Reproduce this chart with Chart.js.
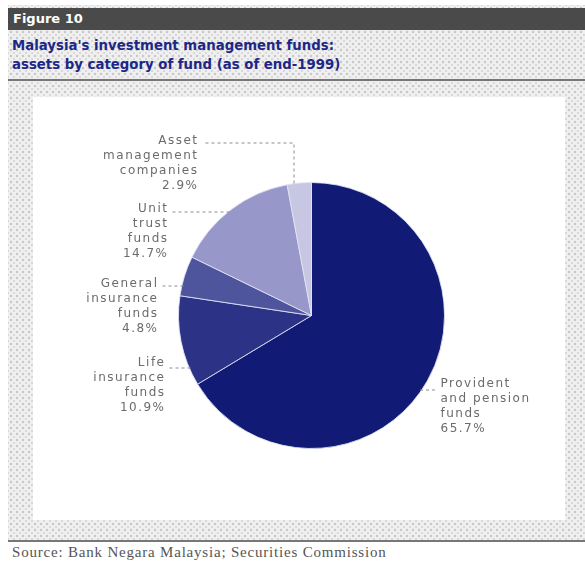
<!DOCTYPE html>
<html>
<head>
<meta charset="utf-8">
<script src="https://cdn.jsdelivr.net/npm/chart.js@4.4.1/dist/chart.umd.min.js"></script>
<style>
  html, body { margin: 0; padding: 0; background: #fff; }
  #page { position: relative; width: 585px; height: 566px; overflow: hidden; background: #fff; font-family: "DejaVu Sans", sans-serif; }
  .hatch {
    background-color: #f0f0f0;
    background-image:
      radial-gradient(circle at center, #c9c9c9 0 1px, transparent 1.7px),
      radial-gradient(circle at center, #d8d8d8 0 0.8px, transparent 1.5px);
    background-size: 6px 6px, 6px 6px;
    background-position: 0 0, 3px 3px;
  }
  #frame { position: absolute; left: 8px; top: 5px; right: 0; height: 536px; }
  #bar { position: absolute; left: 8px; top: 8px; right: 0; height: 22px; background: #4a4a4a; }
  #bar span { position: absolute; left: 5px; top: 3px; color: #fff; font: bold 13px "DejaVu Sans", sans-serif; }
  #title { position: absolute; left: 12px; top: 36px; color: #1d2787; font: bold 13.3px/19px "DejaVu Sans", sans-serif; }
  #rule1 { position: absolute; left: 8px; right: 0; top: 79px; height: 2px; background: #777; }
  #panel { position: absolute; left: 33px; top: 97px; width: 532px; height: 423px; background: #fff; }
  #rule2 { position: absolute; left: 8px; right: 0; top: 540px; height: 2px; background: #777; }
  #source { position: absolute; left: 12px; top: 544px; font: 15px "Liberation Serif", serif; color: #555; letter-spacing: 0.8px; }
  canvas { position: absolute; left: 0; top: 0; }
</style>
</head>
<body>
<div id="page">
  <div id="frame" class="hatch"></div>
  <div id="bar"><span>Figure 10</span></div>
  <div id="title">Malaysia's investment management funds:<br>assets by category of fund (as of end-1999)</div>
  <div id="rule1"></div>
  <div id="panel"></div>
  <div id="rule2"></div>
  <div id="source">Source: Bank Negara Malaysia; Securities Commission</div>
  <canvas id="pie" width="585" height="566"></canvas>
</div>
<script>
// Fund categories, clockwise from 12 o'clock
const categories = [
  'Provident and pension funds',
  'Life insurance funds',
  'General insurance funds',
  'Unit trust funds',
  'Asset management companies'
];
// Share of total assets, per cent
const shares = [65.7, 10.9, 4.8, 14.7, 2.9];
// Label text broken into lines (the percentage is appended as the last line)
const labelLines = [
  ['Provident', 'and pension', 'funds'],
  ['Life', 'insurance', 'funds'],
  ['General', 'insurance', 'funds'],
  ['Unit', 'trust', 'funds'],
  ['Asset', 'management', 'companies']
];
const sliceColors = ['#111a74', '#2c3386', '#4e559c', '#9797c9', '#c7c7e3'];

// Label placement relative to the pie centre.
// dx/dy: anchor of the first text line; leaderDy: height of the leader line;
// vx: for a bent leader, x offset where it turns down to the rim.
const labelLayout = [
  { align: 'left',  dx: 129,  dy: 68,  leaderDy: 74 },
  { align: 'right', dx: -146, dy: 47,  leaderDy: 52 },
  { align: 'right', dx: -153, dy: -32, leaderDy: -30 },
  { align: 'right', dx: -143, dy: -107, leaderDy: -104 },
  { align: 'right', dx: -113, dy: -175, leaderDy: -173, vx: -18 }
];
const LINE_H = 15;

const calloutPlugin = {
  id: 'callouts',
  afterDatasetsDraw(chart) {
    const meta = chart.getDatasetMeta(0);
    const a0 = meta.data[0];
    const cx = a0.x, cy = a0.y, r = a0.outerRadius;
    const ctx = chart.ctx;
    ctx.save();
    ctx.font = '12px "DejaVu Sans", sans-serif';
    ctx.letterSpacing = '1.5px';
    ctx.textBaseline = 'middle';
    labelLayout.forEach((L, i) => {
      const lines = labelLines[i].concat([shares[i].toFixed(1) + '%']);
      const tx = cx + L.dx;
      const ty = cy + L.dy;
      ctx.fillStyle = '#6b6b6b';
      ctx.textAlign = L.align;
      lines.forEach((s, k) => ctx.fillText(s, tx, ty + k * LINE_H));

      // leader line
      const ly = cy + L.leaderDy;
      ctx.strokeStyle = '#8c8c8c';
      ctx.lineWidth = 1;
      ctx.setLineDash([3, 3]);
      ctx.beginPath();
      if (L.vx !== undefined) {
        const x0 = tx + 7;
        const vxAbs = cx + L.vx;
        const rimY = cy - Math.sqrt(r * r - L.vx * L.vx);
        ctx.moveTo(x0, ly + 0.5);
        ctx.lineTo(vxAbs + 0.5, ly + 0.5);
        ctx.lineTo(vxAbs + 0.5, rimY + 2);
      } else {
        const half = Math.sqrt(Math.max(r * r - L.leaderDy * L.leaderDy, 0));
        if (L.align === 'right') {
          ctx.moveTo(tx + 4, ly + 0.5);
          ctx.lineTo(cx - half + 2, ly + 0.5);
        } else {
          ctx.moveTo(cx + half - 2, ly + 0.5);
          ctx.lineTo(tx - 3, ly + 0.5);
        }
      }
      ctx.stroke();
    });
    ctx.restore();
  }
};

new Chart(document.getElementById('pie'), {
  type: 'pie',
  data: {
    labels: categories,
    datasets: [{
      data: shares,
      backgroundColor: sliceColors,
      borderColor: 'rgba(225,228,245,0.85)',
      borderWidth: 1
    }]
  },
  options: {
    responsive: false,
    animation: false,
    events: [],
    layout: { padding: { left: 178, top: 182, right: 140, bottom: 117 } },
    plugins: { legend: { display: false }, tooltip: { enabled: false } }
  },
  plugins: [calloutPlugin]
});
</script>
</body>
</html>
